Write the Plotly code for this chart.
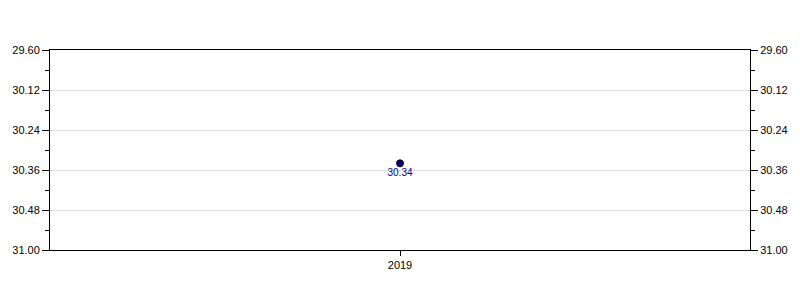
import plotly.graph_objects as go

categories = ["2019"]
values = [30.34]
tick_vals = [30.00, 30.12, 30.24, 30.36, 30.48, 30.60]
tick_text = ["29.60", "30.12", "30.24", "30.36", "30.48", "31.00"]

fig = go.Figure()
fig.add_trace(go.Scatter(
    x=categories, y=values, mode="markers+text",
    marker=dict(color="#000080", size=7, line=dict(color="#000000", width=1)),
    text=[f"{v:.2f}" for v in values], textposition="bottom center",
    textfont=dict(color="#000099", size=10, family="Liberation Sans, Arial"),
    showlegend=False,
))
# invisible trace on secondary y axis to mirror the left one
fig.add_trace(go.Scatter(x=categories, y=values, yaxis="y2", mode="markers",
                         marker=dict(opacity=0), showlegend=False, hoverinfo="skip"))

axis_common = dict(
    range=[30.60, 30.00], tickvals=tick_vals, ticktext=tick_text,
    ticks="outside", ticklen=7, tickcolor="#000", tickwidth=1,
    showline=True, linecolor="#000", linewidth=1,
    tickfont=dict(size=11, color="#000", family="Liberation Sans, Arial"),
    minor=dict(tickvals=[30.06, 30.18, 30.30, 30.42, 30.54], ticks="outside",
               ticklen=4, tickcolor="#000", showgrid=False),
    zeroline=False,
)

fig.update_layout(
    width=800, height=300,
    margin=dict(l=50, r=50, t=50, b=50),
    paper_bgcolor="#fff", plot_bgcolor="#fff",
    xaxis=dict(type="category", showline=True, linecolor="#000", mirror=True,
               ticks="outside", ticklen=5, tickcolor="#000", showgrid=False,
               tickfont=dict(size=11, color="#000", family="Liberation Sans, Arial")),
    yaxis=dict(**axis_common, showgrid=True, gridcolor="#dddddd", gridwidth=1),
    yaxis2=dict(**axis_common, overlaying="y", side="right", showgrid=False),
)
fig.write_html("out.html")
